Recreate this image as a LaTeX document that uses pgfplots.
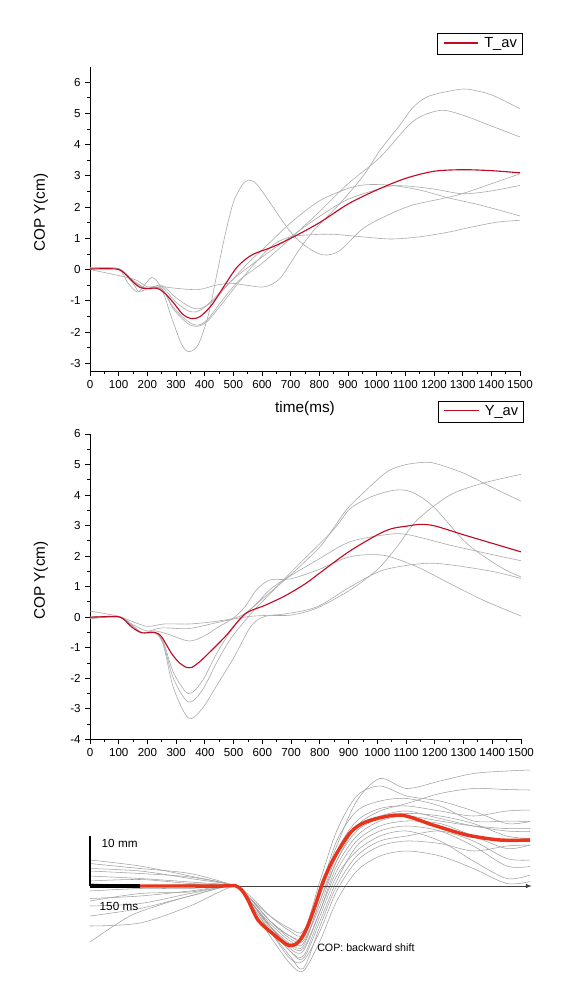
\documentclass[border=0pt]{standalone}
\usepackage{fontspec}
\setmainfont{Liberation Sans}
\usepackage{pgfplots}
\pgfplotsset{compat=1.18}
\definecolor{cgrey}{RGB}{170,170,170}
\definecolor{cred}{RGB}{196,10,35}
\definecolor{bred}{RGB}{232,52,28}
\definecolor{bgrey}{RGB}{160,160,160}
\newcommand{\legkey}[1]{\tikz[baseline=-0.6ex]{\draw[cred, line width=0.85pt] (0pt,0pt) -- (26pt,0pt);}\hspace{4pt}#1}
\tikzset{legbox/.style={draw=black, line width=0.7pt, fill=white, inner xsep=4pt, inner ysep=3pt, anchor=center, font=\fontsize{11}{12}\selectfont}}
\pgfplotsset{
  originax/.style={
    scale only axis, axis lines=left, axis line style={-, line width=0.7pt},
    tick align=outside, major tick length=3.5pt, minor tick length=2pt,
    tick style={black, line width=0.7pt},
    xmin=0, xmax=1500, xtick={0,100,...,1500}, minor x tick num=1, minor y tick num=1,
    xticklabels={0,100,200,300,400,500,600,700,800,900,1000,1100,1200,1300,1400,1500},
    ticklabel style={font=\fontsize{8.7}{10}\selectfont},
    ylabel={COP Y(cm)},
    ylabel style={at={(axis description cs:-0.114,0.52)}, anchor=center, font=\fontsize{11.5}{13}\selectfont},
    clip=false,
  },
  gl/.style={cgrey, line width=0.45pt, smooth},
  rl/.style={cred, line width=0.85pt, smooth},
  bg/.style={bgrey, line width=0.4pt, smooth},
}
\begin{document}
\begin{tikzpicture}
\useasboundingbox (0,0) rectangle (425.25pt,-736.5pt);
% ---------------- top ----------------
\begin{axis}[originax, at={(67.5pt,-278.25pt)}, anchor=south west,
  width=322.5pt, height=228.2pt, ymin=-3.25, ymax=6.5,
  ytick={-3,...,6}, yticklabels={-3,-2,-1,0,1,2,3,4,5,6},
  xlabel={time(ms)},
  xlabel style={at={(axis description cs:0.5,-0.122)}, anchor=center, font=\fontsize{11.5}{13}\selectfont}]
\addplot[gl] coordinates {(0,0.05) (100,0.02) (150,-0.45) (170,-0.7) (200,-0.62) (250,-0.55) (300,-0.6) (378,-0.64) (440,-0.5) (494,-0.44) (560,-0.52) (610,-0.55) (663,-0.28) (733,0.68) (785,1.3) (870,2.1) (953,3.0) (1010,3.8) (1081,4.63) (1127,5.2) (1180,5.55) (1266,5.74) (1317,5.78) (1400,5.6) (1500,5.15)};
\addplot[gl] coordinates {(0,0.0) (100,0.03) (150,-0.35) (200,-0.62) (250,-0.62) (290,-1.2) (340,-1.65) (375,-1.78) (410,-1.6) (460,-1.0) (520,-0.35) (600,0.2) (700,1.0) (800,1.85) (900,2.75) (1012,3.6) (1127,4.75) (1221,5.1) (1300,4.95) (1400,4.6) (1500,4.25)};
\addplot[gl] coordinates {(0,0.05) (100,0.0) (130,-0.4) (165,-0.72) (190,-0.5) (215,-0.25) (240,-0.45) (260,-0.85) (285,-1.55) (320,-2.4) (345,-2.63) (378,-2.4) (413,-1.45) (442,-0.17) (471,1.1) (500,2.15) (530,2.7) (553,2.87) (580,2.75) (620,2.25) (700,1.2) (760,0.7) (815,0.47) (870,0.6) (953,1.32) (1040,1.75) (1127,2.07) (1279,2.38) (1400,2.75) (1500,3.07)};
\addplot[gl] coordinates {(0,0.03) (100,0.03) (150,-0.4) (200,-0.6) (250,-0.5) (300,-0.9) (350,-1.2) (385,-1.25) (430,-1.0) (480,-0.5) (550,0.2) (620,0.8) (700,1.5) (800,2.2) (900,2.6) (965,2.72) (1050,2.7) (1150,2.55) (1250,2.3) (1360,2.07) (1500,1.72)};
\addplot[gl] coordinates {(0,0.0) (150,-0.3) (200,-0.55) (250,-0.55) (300,-1.05) (350,-1.35) (385,-1.3) (430,-0.95) (500,-0.3) (600,0.4) (700,1.05) (800,1.7) (900,2.25) (1035,2.65) (1100,2.68) (1200,2.58) (1300,2.43) (1400,2.52) (1500,2.7)};
\addplot[gl] coordinates {(0,0.05) (100,0.02) (150,-0.35) (200,-0.62) (250,-0.6) (290,-1.25) (340,-1.72) (375,-1.82) (410,-1.65) (460,-1.1) (520,-0.4) (580,0.25) (640,0.8) (700,1.05) (780,1.12) (850,1.13) (950,1.05) (1050,0.98) (1150,1.05) (1250,1.2) (1330,1.36) (1420,1.52) (1500,1.58)};
\addplot[rl] coordinates {(0,0.02) (90,0.02) (115,-0.08) (140,-0.3) (165,-0.52) (185,-0.6) (210,-0.6) (235,-0.6) (260,-0.75) (290,-1.05) (320,-1.4) (340,-1.53) (360,-1.57) (385,-1.5) (425,-1.13) (470,-0.5) (515,0.1) (565,0.47) (635,0.72) (700,1.0) (800,1.5) (900,2.1) (1000,2.55) (1100,2.92) (1200,3.15) (1300,3.2) (1400,3.17) (1500,3.1)};
\node[legbox] at (rel axis cs:0.907,1.0746) {\legkey{T\_av}};
\end{axis}
% ---------------- middle ----------------
\begin{axis}[originax, at={(67.5pt,-554.5pt)}, anchor=south west,
  width=323.25pt, height=229pt, ymin=-4, ymax=6,
  ytick={-4,...,6}, yticklabels={-4,-3,-2,-1,0,1,2,3,4,5,6}]
\addplot[gl] coordinates {(0,0.0) (100,0.02) (150,-0.3) (180,-0.5) (226,-0.5) (255,-0.8) (290,-1.8) (342,-2.5) (390,-2.1) (440,-1.2) (490,-0.45) (540,0.1) (600,0.6) (700,1.4) (800,2.3) (850,2.95) (900,3.6) (1000,4.5) (1044,4.82) (1100,5.0) (1160,5.07) (1200,5.04) (1300,4.72) (1400,4.25) (1500,3.8)};
\addplot[gl] coordinates {(0,0.0) (100,0.02) (150,-0.3) (180,-0.5) (226,-0.5) (255,-0.85) (290,-2.0) (342,-2.78) (390,-2.4) (440,-1.5) (490,-0.7) (557,0.08) (615,0.66) (731,1.77) (846,2.85) (905,3.55) (980,3.95) (1060,4.16) (1120,4.1) (1195,3.62) (1311,2.42) (1427,1.65) (1500,1.32)};
\addplot[gl] coordinates {(0,-0.05) (100,0.0) (150,-0.3) (180,-0.5) (226,-0.52) (255,-0.9) (290,-2.3) (342,-3.3) (390,-3.0) (450,-2.1) (505,-1.25) (560,-0.3) (610,0.03) (700,0.07) (790,0.3) (905,0.89) (998,1.54) (1068,2.3) (1138,3.18) (1253,4.0) (1368,4.39) (1500,4.68)};
\addplot[gl] coordinates {(0,0.2) (50,0.12) (100,0.03) (150,-0.15) (200,-0.3) (260,-0.22) (350,-0.22) (450,-0.12) (520,0.02) (570,0.35) (620,0.85) (672,1.21) (790,1.87) (905,2.47) (1044,2.72) (1114,2.69) (1253,2.36) (1400,2.05) (1500,1.85)};
\addplot[gl] coordinates {(0,-0.05) (100,0.02) (150,-0.3) (180,-0.5) (226,-0.45) (270,-0.55) (345,-0.78) (400,-0.6) (445,-0.33) (500,-0.02) (540,0.35) (580,0.9) (626,1.22) (696,1.25) (790,1.54) (905,1.98) (1020,2.03) (1138,1.65) (1253,1.1) (1368,0.56) (1500,0.04)};
\addplot[gl] coordinates {(0,0.0) (100,0.02) (150,-0.25) (200,-0.45) (250,-0.35) (345,-0.37) (445,-0.17) (550,0.02) (672,0.1) (790,0.34) (905,0.99) (1020,1.54) (1160,1.76) (1250,1.72) (1400,1.5) (1500,1.27)};
\addplot[rl] coordinates {(0,0.0) (90,0.02) (115,-0.05) (145,-0.32) (180,-0.51) (226,-0.5) (249,-0.64) (284,-1.19) (312,-1.5) (335,-1.64) (355,-1.64) (380,-1.47) (400,-1.3) (470,-0.64) (539,0.1) (609,0.39) (679,0.7) (750,1.1) (800,1.45) (900,2.14) (1000,2.7) (1050,2.9) (1100,2.98) (1150,3.04) (1200,2.99) (1300,2.7) (1400,2.42) (1500,2.14)};
\node[legbox] at (rel axis cs:0.907,1.0737) {\legkey{Y\_av}};
\end{axis}
% ---------------- bottom ----------------
\begin{axis}[at={(67.5pt,-739.5pt)}, anchor=south west, scale only axis,
  width=330pt, height=168.75pt, xmin=0, xmax=1320, ymin=-20, ymax=25,
  hide axis, clip=false]
\addplot[bg] coordinates {(0,5.2) (150,4.0) (300,2.0) (435,0) (480,-2.5) (540,-6) (600,-8.5) (640,-9) (690,-1) (740,8) (800,17) (870,21.5) (950,19.5) (1050,21) (1150,22.5) (1250,23) (1320,23.2)};
\addplot[bg] coordinates {(0,3.5) (150,3) (300,1.5) (435,0) (480,-3) (540,-8) (600,-11.5) (640,-12) (690,-3) (740,5) (800,12) (870,15) (950,16.5) (1050,18.5) (1150,19.5) (1250,19.3) (1320,19.2)};
\addplot[bg] coordinates {(0,-11.2) (114,-6.2) (200,-4) (300,-2) (435,0) (480,-3.5) (540,-9) (600,-14) (640,-16.5) (690,-8) (740,0) (800,6) (870,9) (950,10) (1050,11) (1150,9) (1250,5.5) (1320,5.2)};
\addplot[bg] coordinates {(0,-8) (150,-7.4) (300,-4) (435,0) (480,-3) (540,-8) (600,-13) (640,-14.5) (690,-7) (740,1) (800,8) (870,11) (950,12) (1050,11) (1150,8) (1250,4) (1320,3.9)};
\addplot[bg] coordinates {(0,2) (150,1.5) (300,0.8) (435,0) (480,-2.5) (540,-7) (600,-10) (640,-10.5) (690,-2) (740,7) (800,13) (870,15.5) (950,16) (1050,15) (1150,14) (1250,15) (1320,15.2)};
\addplot[bg] coordinates {(0,1.0) (150,1.3) (300,0.5) (435,0) (480,-3) (540,-8) (600,-12.5) (640,-13) (690,-5) (740,4) (800,10) (870,13) (950,14) (1050,13) (1150,12) (1250,11.5) (1320,11.5)};
\addplot[bg] coordinates {(0,-1) (150,-0.5) (300,-0.5) (435,0) (480,-3) (540,-7.5) (600,-11) (640,-11.5) (690,-3) (740,6) (800,12) (870,14) (950,15) (1050,13.5) (1150,12) (1250,11) (1320,10.9)};
\addplot[bg] coordinates {(0,-2.5) (150,-2) (300,-1) (435,0) (480,-3.5) (540,-9) (600,-14.5) (640,-15) (690,-9) (740,-1) (800,5) (870,8) (950,9) (1050,8.5) (1150,7) (1250,8) (1320,8.2)};
\addplot[bg] coordinates {(0,4.5) (150,3.5) (300,2.5) (435,0) (480,-2) (540,-6) (600,-9) (640,-9.5) (690,1) (740,11) (800,18) (870,20) (950,18) (1050,17) (1150,15) (1250,12.5) (1320,12.9)};
\addplot[bg] coordinates {(0,-4) (150,-3.5) (300,-1.5) (435,0) (480,-3) (540,-8.5) (600,-13) (640,-14) (690,-6) (740,2) (800,7) (870,10) (950,11) (1050,9) (1150,5) (1250,1.5) (1320,2.2)};
\addplot[bg] coordinates {(0,0.5) (150,0) (300,0.3) (435,0) (480,-2.5) (540,-7) (600,-10.5) (640,-11) (690,-4) (740,5) (800,11) (870,13.5) (950,14.5) (1050,14) (1150,12.5) (1250,10) (1320,9.5)};
\addplot[bg] coordinates {(0,-6) (150,-4.5) (300,-2) (435,0) (480,-4) (540,-10) (600,-15.5) (640,-17) (690,-11) (740,-3) (800,3) (870,6) (950,7) (1050,6) (1150,3.5) (1250,0.5) (1320,0.9)};
\addplot[bg] coordinates {(0,3) (150,2.5) (300,1.8) (435,0) (480,-2.5) (540,-7) (600,-10) (640,-10) (690,-1) (740,9) (800,15) (870,17) (950,17.5) (1050,16) (1150,13) (1250,13) (1320,12.9)};
\addplot[bg] coordinates {(0,-3) (150,-1.5) (300,-1.2) (435,0) (480,-3) (540,-8) (600,-12) (640,-12.5) (690,-5) (740,3) (800,9) (870,12) (950,13) (1050,12.5) (1150,10) (1250,7.5) (1320,8.2)};
% axis arrow
\addplot[black!75, line width=0.5pt, -latex] coordinates {(0,0) (1325,0)};
% red mean
\addplot[bred, line width=2.6pt, smooth] coordinates {(0,0) (150,0) (300,0) (400,0) (435,0.1) (455,-0.8) (474,-2.8) (504,-6.8) (546,-9.4) (594,-11.8) (624,-11.3) (650,-8.5) (675,-4) (700,1) (729,5.2) (780,10.6) (831,12.9) (930,14.2) (1029,12.2) (1131,10.2) (1230,9.2) (1320,9.2)};
% scale bars
\addplot[black, line width=1.5pt] coordinates {(0,0) (0,10)};
\addplot[black, line width=2.6pt] coordinates {(0,0) (150,0)};
\node[anchor=west, font=\fontsize{8.8}{10}\selectfont] at (axis cs:21,8.6) {10 mm};
\node[anchor=west, font=\fontsize{8.8}{10}\selectfont] at (axis cs:15,-4) {150 ms};
\node[anchor=west, font=\fontsize{8}{9}\selectfont, inner sep=0pt] at (axis cs:681,-12.4) {COP: backward shift};
\end{axis}
\end{tikzpicture}
\end{document}
